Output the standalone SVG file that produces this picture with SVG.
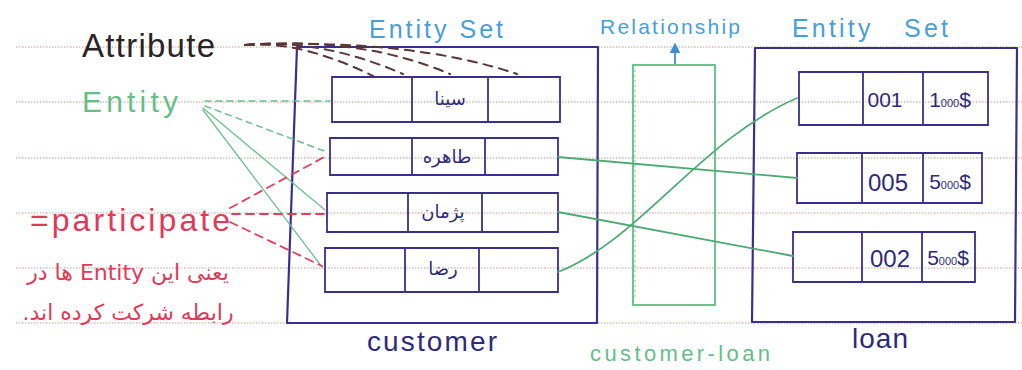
<svg xmlns="http://www.w3.org/2000/svg" width="1022" height="370" viewBox="0 0 1022 370">
  <style>
    .rule-a { stroke: #eaa8d0; stroke-width: 1.5; stroke-dasharray: 1.5 4.5; fill: none; }
    .rule-b { stroke: #b4dc9c; stroke-width: 1.5; stroke-dasharray: 1.5 4.5; stroke-dashoffset: 3; fill: none; }
    .box { fill: none; stroke: #3b2f8c; stroke-width: 2.2; stroke-linejoin: round; stroke-linecap: round; }
    .cell { fill: none; stroke: #3b2f8c; stroke-width: 1.8; stroke-linecap: round; }
    .rel { fill: none; stroke: #5cbf86; stroke-width: 1.8; }
    .link { fill: none; stroke: #4eaa74; stroke-width: 1.8; stroke-linecap: round; }
    .attr { fill: none; stroke: #5a3636; stroke-width: 2; stroke-dasharray: 9 7; stroke-linecap: round; }
    .ent { fill: none; stroke: #6cc08c; stroke-width: 1.3; stroke-linecap: round; }
    .ent-d { fill: none; stroke: #6cc08c; stroke-width: 1.5; stroke-dasharray: 6 5; stroke-linecap: round; }
    .part { fill: none; stroke: #e0405c; stroke-width: 1.8; stroke-dasharray: 8 6; stroke-linecap: round; }
    .lat { font-family: "Liberation Sans", Arial, sans-serif; }
    .fa { font-family: "DejaVu Sans", "Noto Sans", sans-serif; direction: rtl; unicode-bidi: embed; }
    .navy { fill: #2f2a78; }
    .blue { fill: #4a9ed8; }
    .green { fill: #66bd88; }
    .red { fill: #e03a58; }
  </style>
  <defs>
    <marker id="arrowUp" viewBox="0 0 10 10" refX="5" refY="5" markerWidth="6" markerHeight="6" orient="auto-start-reverse">
      <path d="M0,0 L10,5 L0,10 z" fill="#3a8fd0"/>
    </marker>
  </defs>

  <rect width="1022" height="370" fill="#ffffff"/>

  <!-- ruled paper lines -->
  <g id="ruling">
    <path class="rule-a" d="M16,47 H1022 M16,102 H1022 M16,158 H1022 M16,213 H1022 M16,268 H1022 M16,323 H1022"/>
    <path class="rule-b" d="M16,47 H1022 M16,102 H1022 M16,158 H1022 M16,213 H1022 M16,268 H1022 M16,323 H1022"/>
  </g>

  <!-- customer entity set -->
  <g id="customer-set">
    <path class="box" d="M297,47 L598,47 L597,323 L287,323 Z"/>
    <text class="lat blue" x="436" y="38" font-size="25" text-anchor="middle" textLength="134">Entity Set</text>
    <text class="lat navy" x="432" y="351" font-size="28" text-anchor="middle" textLength="130">customer</text>
  </g>

  <g id="customer-1">
    <path class="cell" d="M332,77 H560 V122 H332 Z M412,77 V122 M488,77 V122"/>
    <text class="fa navy" x="450" y="105" font-size="18" text-anchor="middle">سینا</text>
  </g>
  <g id="customer-2">
    <path class="cell" d="M330,138 H558 V175 H330 Z M412,138 V175 M485,138 V175"/>
    <text class="fa navy" x="447" y="163" font-size="18" text-anchor="middle">طاهره</text>
  </g>
  <g id="customer-3">
    <path class="cell" d="M327,193 H558 V232 H327 Z M408,193 V232 M482,193 V232"/>
    <text class="fa navy" x="443" y="218" font-size="18" text-anchor="middle">پژمان</text>
  </g>
  <g id="customer-4">
    <path class="cell" d="M325,248 H558 V292 H325 Z M405,248 V292 M479,248 V292"/>
    <text class="fa navy" x="443" y="275" font-size="18" text-anchor="middle">رضا</text>
  </g>

  <!-- relationship set -->
  <g id="customer-loan">
    <rect class="rel" x="633" y="65" width="82" height="240"/>
    <line x1="635" y1="70" x2="635" y2="300" stroke="#8fd4a8" stroke-width="1.2" stroke-dasharray="2 3"/>
    <line x1="675" y1="64" x2="675" y2="48" stroke="#3a8fd0" stroke-width="1.8" marker-end="url(#arrowUp)"/>
    <text class="lat blue" x="670" y="34" font-size="21" text-anchor="middle" textLength="140">Relationship</text>
    <text class="lat green" x="680" y="361" font-size="22" text-anchor="middle" textLength="180">customer-loan</text>
  </g>

  <!-- loan entity set -->
  <g id="loan-set">
    <path class="box" d="M755,48 L1017,48 L1015,322 L752,322 Z"/>
    <text class="lat blue" x="870" y="37" font-size="25" text-anchor="middle" textLength="156" xml:space="preserve">Entity   Set</text>
    <text class="lat navy" x="880" y="348" font-size="28" text-anchor="middle" textLength="56">loan</text>
  </g>

  <g id="loan-1">
    <path class="cell" d="M799,72 H988 V125 H799 Z M863,72 V125 M923,72 V125"/>
    <text class="lat navy" x="885" y="107" font-size="21" text-anchor="middle">001</text>
    <text class="lat navy" x="950" y="107" font-size="21" text-anchor="middle">1<tspan font-size="11">000</tspan>$</text>
  </g>
  <g id="loan-2">
    <path class="cell" d="M797,153 H982 V203 H797 Z M862,153 V203 M923,153 V203"/>
    <text class="lat navy" x="888" y="191" font-size="24" text-anchor="middle">005</text>
    <text class="lat navy" x="950" y="189" font-size="21" text-anchor="middle">5<tspan font-size="11">000</tspan>$</text>
  </g>
  <g id="loan-3">
    <path class="cell" d="M793,232 H975 V282 H793 Z M862,232 V282 M922,232 V282"/>
    <text class="lat navy" x="890" y="267" font-size="24" text-anchor="middle">002</text>
    <text class="lat navy" x="948" y="265" font-size="21" text-anchor="middle">5<tspan font-size="11">000</tspan>$</text>
  </g>

  <!-- annotation labels -->
  <g id="attribute-label">
    <text class="lat" x="82" y="57" font-size="33" fill="#2a2424" textLength="133">Attribute</text>
  </g>
  <g id="entity-label">
    <text class="lat green" x="82" y="112" font-size="30" textLength="96">Entity</text>
  </g>
  <g id="participate-label">
    <text class="lat red" x="30" y="231" font-size="32" textLength="200">=participate</text>
    <text class="fa red" x="128" y="280" font-size="22" text-anchor="middle">یعنی این Entity ها در</text>
    <text class="fa red" x="128" y="320" font-size="22" text-anchor="middle">رابطه شرکت کرده اند.</text>
  </g>

  <!-- connectors -->
  <g id="connectors">
    <!-- attribute pointers into the first record -->
    <path class="attr" d="M245,45 Q300,40 373,76"/>
    <path class="attr" d="M245,45 Q320,38 403,74"/>
    <path class="attr" d="M245,45 Q360,36 450,74"/>
    <path class="attr" d="M245,45 Q410,38 517,74"/>

    <!-- entity pointers -->
    <path class="ent-d" d="M205,101 H330"/>
    <path class="ent-d" d="M205,106 L327,152"/>
    <path class="ent" d="M203,108 L325,210"/>
    <path class="ent" d="M203,110 L322,267"/>

    <!-- participation pointers -->
    <path class="part" d="M230,208 L328,155"/>
    <path class="part" d="M232,214 H326"/>
    <path class="part" d="M230,222 L322,266"/>

    <!-- customer to loan links through the relationship -->
    <path class="link" d="M558,157 L797,178"/>
    <path class="link" d="M558,212 L793,256"/>
    <path class="link" d="M558,272 C640,240 700,140 797,98"/>
  </g>
</svg>
